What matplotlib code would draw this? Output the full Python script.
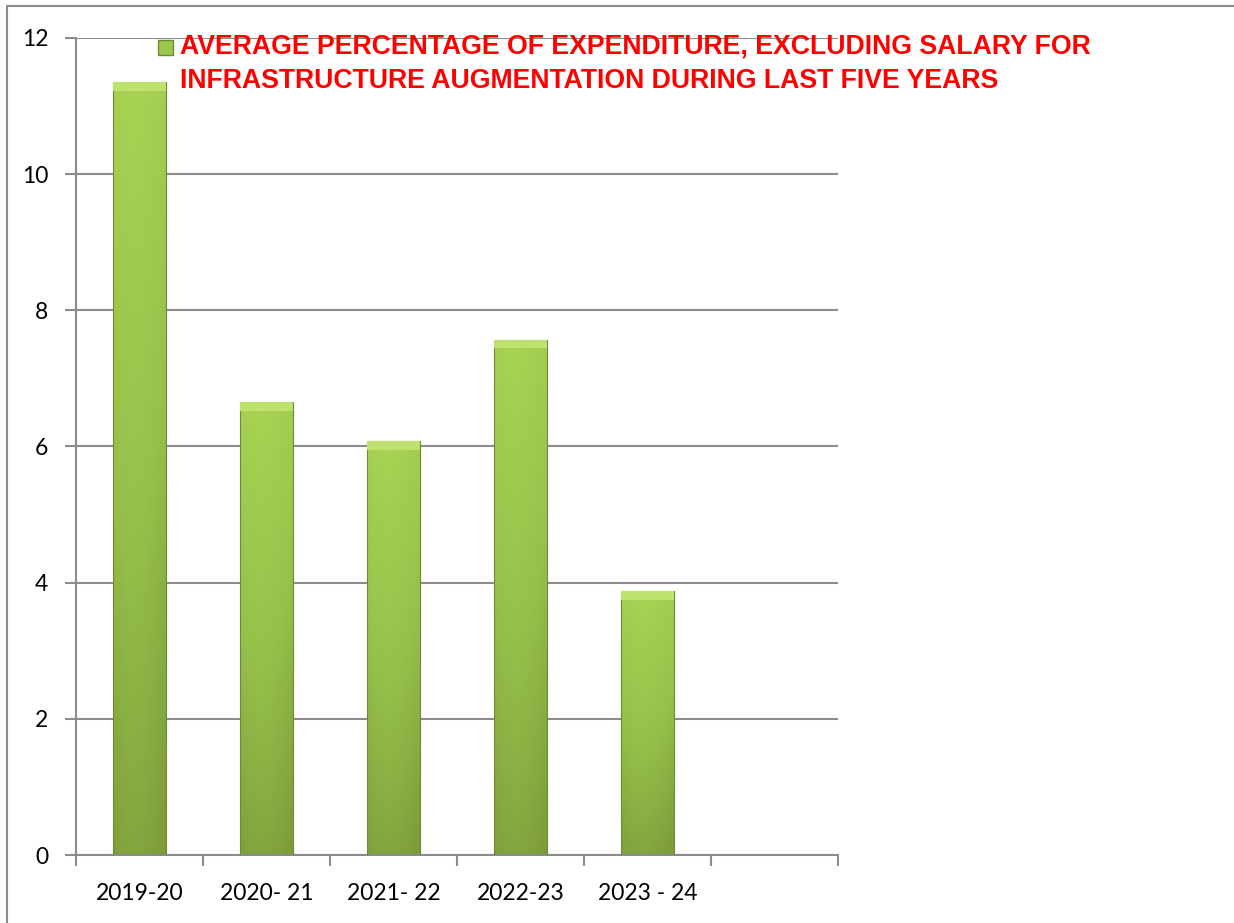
import numpy as np
import matplotlib
matplotlib.use("Agg")
import matplotlib.pyplot as plt
from matplotlib.patches import Rectangle
from matplotlib.colors import LinearSegmentedColormap

years = ["2019-20", "2020- 21", "2021- 22", "2022-23", "2023 - 24"]
values = [11.35, 6.65, 6.08, 7.57, 3.88]
legend_lines = ["AVERAGE PERCENTAGE OF EXPENDITURE, EXCLUDING SALARY FOR",
                "INFRASTRUCTURE AUGMENTATION DURING LAST FIVE YEARS"]

n_slots = 6
bar_w = 0.41
grey = "#8c8c8c"

fig = plt.figure(figsize=(12.34, 9.23), dpi=100)
ax = fig.add_axes([76 / 1234, 1 - 855 / 923, (838 - 76) / 1234, (855 - 38) / 923])

# outer chart border
fig.patches.append(Rectangle((7 / 1234, -0.1), 1.2, 1 - 6 / 923 + 0.1,
                             transform=fig.transFigure, fill=False,
                             edgecolor=grey, lw=1.5))

# vertical gradient: light at top, darker at bottom, with a soft horizontal shade
cmap = LinearSegmentedColormap.from_list("g", ["#7c9b3a", "#96c04a", "#a9d354"])
xs = np.linspace(0, 1, 60)
ys = np.linspace(0, 1, 200)
X, Y = np.meshgrid(xs, ys)
shade = 0.15 + 0.85 * Y - 0.35 * np.abs(X - 0.4) ** 1.5

bars = ax.bar(range(len(values)), values, width=bar_w, color="none",
              edgecolor="#6f8a33", lw=0.8, zorder=3)
for b, v in zip(bars, values):
    x0 = b.get_x()
    im = ax.imshow(shade, cmap=cmap, vmin=0, vmax=1, origin="lower",
                   extent=(x0, x0 + bar_w, 0, v), aspect="auto", zorder=2.5)
    im.set_clip_path(b)
    # light bevel cap on top
    ax.bar(x0 + bar_w / 2, 0.13, bottom=v - 0.13, width=bar_w,
           color="#bde26e", edgecolor="none", zorder=3.2)

ax.set_aspect("auto")
ax.set_xlim(-0.5, n_slots - 0.5)
ax.set_ylim(0, 12)

ax.yaxis.set_ticks(np.arange(0, 13, 2))
ax.yaxis.grid(True, color=grey, lw=1.5)
ax.set_axisbelow(True)
ax.tick_params(axis="y", direction="out", length=8, width=1.5, color=grey,
               labelsize=16.5, pad=12)

ax.set_xticks(np.arange(-0.5, n_slots, 1))
ax.set_xticklabels([])
ax.set_xticks(range(len(years)), minor=True)
ax.set_xticklabels(years, minor=True)
ax.tick_params(axis="x", which="major", direction="out", length=8, width=1.5, color=grey)
ax.tick_params(axis="x", which="minor", length=0, labelsize=16.5, pad=20)

for lab in ax.get_yticklabels() + ax.get_xticklabels(minor=True):
    lab.set_family(["Lato", "DejaVu Sans"])

for s in ["top", "right"]:
    ax.spines[s].set_visible(False)
for s in ["left", "bottom"]:
    ax.spines[s].set_color(grey)
    ax.spines[s].set_linewidth(1.5)

# legend
fig.patches.append(Rectangle((158 / 1234, 1 - 55 / 923), 15 / 1234, 15 / 923,
                             transform=fig.transFigure, facecolor="#9cc64c",
                             edgecolor="#6f8a33", lw=1))
for i, line in enumerate(legend_lines):
    fig.text(180 / 1234, 1 - (54 + 34 * i) / 923, line, ha="left", va="baseline",
             color="red", fontsize=19.2, fontweight="bold",
             family="Liberation Sans")

fig.savefig("out.png", dpi=100)
